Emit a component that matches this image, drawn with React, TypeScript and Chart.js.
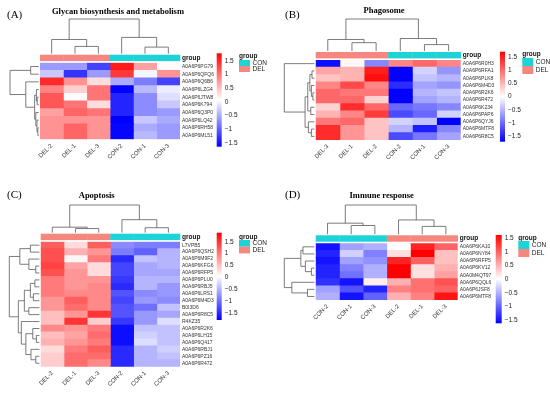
import React, { useEffect, useRef } from "react";
import { Chart, registerables } from "chart.js";
Chart.register(...registerables);

type Tree = number | [number, Tree, Tree];

const SANS = "'Liberation Sans', Arial, sans-serif";
const SERIF = "'Liberation Serif', 'Times New Roman', serif";

// ---------- Panel A ----------
const aRows = ["A0A6P6PG79", "A0A6P6QFQ6", "A0A6P6Q6B6", "A0A6P6LZG4", "A0A6P6JTW8", "A0A6P6K794", "A0A6P6Q3P0", "A0A6P6LQ42", "A0A6P6RH58", "A0A6P6ML51"];
const aCols = ["DEL-2", "DEL-1", "DEL-3", "CON-2", "CON-1", "CON-3"];
const aValues = [
  [-0.6, -0.6, -1.2, 1.6, 0.7, 0.1],
  [-0.3, -1.3, -0.6, 1.4, 0.0, 0.8],
  [1.5, 0.8, 0.3, -0.5, -0.8, -1.2],
  [0.9, 0.4, 1.0, -1.7, -0.4, -0.05],
  [1.2, 0.05, 1.0, -1.4, -0.7, -0.15],
  [1.2, 1.0, 0.3, -1.4, -0.7, -0.3],
  [0.7, 1.1, 1.0, -1.4, -0.7, -0.6],
  [0.8, 0.8, 0.8, -1.7, -0.3, -0.5],
  [0.8, 1.1, 0.8, -1.6, -0.5, -0.6],
  [0.8, 1.1, 0.8, -1.6, -0.4, -0.6],
];
const aRowTree: Tree = [1, [0.28, 0, 1], [0.45, 2, [0.14, [0.08, 3, [0.05, 4, 5]], [0.1, 6, [0.06, 7, [0.03, 8, 9]]]]]];
const aColTree: Tree = [1, [0.41, 0, [0.21, 1, 2]], [0.47, 3, [0.19, 4, 5]]];
const aRange = [-1.64, 1.78];

// ---------- Panel B ----------
const bRows = ["A0A6P6R0H3", "A0A6P6RFA1", "A0A6P6PLK8", "A0A6P6M4D3", "A0A6P6R2K6", "A0A6P6R472", "A0A6P6K234", "A0A6P6PAP6", "A0A6P6QYJ6", "A0A6P6MTF8", "A0A6P6R8C5"];
const bCols = ["DEL-3", "DEL-1", "DEL-2", "CON-2", "CON-1", "CON-3"];
const bValues = [
  [-1.6, 0.05, -0.8, 0.8, 1.0, 0.8],
  [0.6, 0.5, 1.5, -1.7, -0.3, -0.7],
  [0.4, 0.5, 1.6, -1.7, -0.4, -0.5],
  [0.8, 1.2, 0.8, -1.4, -0.6, -0.7],
  [1.0, 0.9, 0.9, -1.7, -0.5, -0.4],
  [1.0, 1.0, 0.3, -1.7, -0.6, -0.5],
  [0.3, 1.4, 1.0, -1.0, -0.9, -0.8],
  [0.5, 0.8, 1.3, -1.2, -1.0, -0.3],
  [0.9, 1.0, 0.4, -0.3, -0.4, -1.7],
  [1.4, 0.7, 0.4, -0.5, -1.5, -0.8],
  [1.4, 0.7, 0.4, -1.2, -0.9, -0.6],
];
const bRowTree: Tree = [1, 0, [0.31, [0.22, [0.15, [0.08, 1, 2], [0.1, 3, [0.05, 4, 5]]], [0.12, 6, 7]], [0.2, 8, [0.1, 9, 10]]]];
const bColTree: Tree = [1, [0.36, 0, [0.26, 1, 2]], [0.39, 3, [0.2, 4, 5]]];
const bRange = [-1.69, 1.69];

// ---------- Panel C ----------
const cRows = ["L7VPB5", "A0A6P6QSH2", "A0A6P6M9F2", "A0A6P6KFG6", "A0A6P6RFP5", "A0A6P6PLU0", "A0A6P6RBJ5", "A0A6P6LRS1", "A0A6P6M4D3", "B0I3D6", "A0A6P6R8C5", "R4KZ35", "A0A6P6R2K6", "A0A6P6LH15", "A0A6P6Q417", "A0A6P6RBJ1", "A0A6P6PZ16", "A0A6P6R472"];
const cCols = ["DEL-2", "DEL-1", "DEL-3", "CON-2", "CON-1", "CON-3"];
const cValues = [
  [1.2, 0.3, 1.2, -0.8, -0.9, -0.9],
  [1.3, 0.6, 0.8, -0.9, -1.1, -0.5],
  [1.3, 0.1, 1.0, -1.5, -0.4, -0.5],
  [1.4, 0.7, 0.3, -1.3, -0.6, -0.5],
  [1.3, 0.8, 0.3, -1.3, -0.6, -0.6],
  [1.0, 0.8, 0.8, -1.4, -0.5, -0.5],
  [1.0, 0.8, 0.9, -1.5, -0.5, -0.7],
  [1.0, 0.9, 0.9, -1.2, -0.8, -0.7],
  [0.8, 1.2, 0.9, -1.3, -0.7, -0.8],
  [0.8, 1.1, 0.9, -1.2, -1.0, -0.4],
  [0.5, 0.8, 1.5, -1.2, -0.7, -0.6],
  [0.5, 1.5, 0.4, -1.4, -0.7, -0.2],
  [0.9, 0.8, 1.0, -1.7, -0.4, -0.4],
  [0.5, 0.7, 1.1, -1.7, -0.3, -0.4],
  [0.6, 0.8, 1.0, -1.7, -0.2, -0.4],
  [0.3, 1.0, 1.2, -1.5, -0.5, -0.3],
  [0.4, 1.1, 1.1, -1.5, -0.5, -0.4],
  [0.4, 1.1, 0.9, -1.5, -0.5, -0.5],
];
const cRowTree: Tree = [1,
  [0.65, [0.3, 0, 1], [0.35, 2, [0.12, 3, 4]]],
  [0.7, [0.5, [0.3, [0.15, 5, 6], [0.2, 7, 8]], [0.35, 9, 10]],
    [0.6, 11, [0.45, [0.22, 12, [0.1, 13, 14]], [0.28, 15, [0.12, 16, 17]]]]]];
const cColTree: Tree = [1, [0.2, 0, [0.15, 1, 2]], [0.47, 3, [0.18, 4, 5]]];
const cRange = [-1.8, 1.88];

// ---------- Panel D ----------
const dRows = ["A0A6P6KA10", "A0A6P6NY84", "A0A6P6RFP5", "A0A6P6KV12", "A0A0M4QT97", "A0A6P6QQL6", "A0A6P6JSF8", "A0A6P6MTF8"];
const dCols = ["CON-2", "CON-1", "CON-3", "DEL-2", "DEL-1", "DEL-3"];
const dValues = [
  [-1.5, -0.6, -0.5, 0.02, 1.4, 1.0],
  [-1.4, -0.3, -0.8, 0.2, 1.7, 0.4],
  [-1.5, -0.6, -0.7, 1.4, 1.0, 0.4],
  [-1.4, -0.8, -0.5, 1.7, 0.2, 0.5],
  [-1.4, -0.9, -0.5, 1.7, 0.2, 0.6],
  [-1.3, -1.5, 0.1, 0.5, 0.9, 1.1],
  [-0.6, -1.1, -1.4, 0.8, 0.9, 1.0],
  [-0.5, -1.5, -1.0, 0.5, 0.8, 1.5],
];
const dRowTree: Tree = [1, [0.45, [0.38, 0, 1], [0.3, 2, [0.1, 3, 4]]], [0.75, 5, [0.23, 6, 7]]];
const dColTree: Tree = [1, [0.38, 0, [0.3, 1, 2]], [0.49, 3, [0.27, 4, 5]]];
const dRange = [-1.62, 1.62];

const colorbarTicks = [1.5, 1, 0.5, 0, -0.5, -1, -1.5];
const groupNames = ["CON", "DEL"];
const groupColors = ["#1ED3D8", "#F5877E"];

function heatColor(v: number, lo: number, hi: number) {
  let t = (v - lo) / (hi - lo);
  t = Math.max(0, Math.min(1, t));
  let r: number, g: number, b: number;
  if (t < 0.5) {
    const k = t / 0.5;
    r = 255 * k; g = 255 * k; b = 255;
  } else {
    const k = (t - 0.5) / 0.5;
    r = 255; g = 255 * (1 - k); b = 255 * (1 - k);
  }
  return `rgb(${Math.round(r)},${Math.round(g)},${Math.round(b)})`;
}

function groupColor(col: string) {
  const gi = groupNames.findIndex((g) => col.startsWith(g));
  return groupColors[gi];
}

interface Geo {
  x: number; y: number; w: number; h: number;
  L: number; T: number; R: number; B: number;
  titleX: number; titleY: number; tagX: number; tagY: number;
  rowRoot: number; colRoot: number;
  cbX: number; cbW: number; cbTop: number; cbBottom: number;
  legX: number; legY: number; swY: number; swH: number;
}

interface Panel {
  tag: string; title: string;
  rows: string[]; cols: string[]; values: number[][];
  rowTree: Tree; colTree: Tree; range: number[];
  geo: Geo;
}

const panels: Panel[] = [
  {
    tag: "(A)", title: "Glycan biosynthesis and metabolism",
    rows: aRows, cols: aCols, values: aValues, rowTree: aRowTree, colTree: aColTree, range: aRange,
    geo: { x: 0, y: 0, w: 275, h: 190, L: 40, T: 62.7, R: 180, B: 139.3, titleX: 118, titleY: 11.7, tagX: 7, tagY: 15,
      rowRoot: 10, colRoot: 19, cbX: 216.7, cbW: 5, cbTop: 53.3, cbBottom: 146.7, legX: 239, legY: 56.7, swY: 60, swH: 6 },
  },
  {
    tag: "(B)", title: "Phagosome",
    rows: bRows, cols: bCols, values: bValues, rowTree: bRowTree, colTree: bColTree, range: bRange,
    geo: { x: 275, y: 0, w: 275, h: 190, L: 40.7, T: 60, R: 185.7, B: 140, titleX: 109, titleY: 11, tagX: 10, tagY: 15,
      rowRoot: 9.3, colRoot: 19, cbX: 225, cbW: 5, cbTop: 51.7, cbBottom: 141.7, legX: 247.3, legY: 54.3, swY: 58, swH: 8 },
  },
  {
    tag: "(C)", title: "Apoptosis",
    rows: cRows, cols: cCols, values: cValues, rowTree: cRowTree, colTree: cColTree, range: cRange,
    geo: { x: 0, y: 190, w: 275, h: 203, L: 40.7, T: 51.7, R: 180, B: 176.7, titleX: 96.7, titleY: 5.7, tagX: 7, tagY: 5.5,
      rowRoot: 9.3, colRoot: 15, cbX: 216.7, cbW: 5, cbTop: 42.7, cbBottom: 130, legX: 239, legY: 47.3, swY: 50, swH: 6.7 },
  },
  {
    tag: "(D)", title: "Immune response",
    rows: dRows, cols: dCols, values: dValues, rowTree: dRowTree, colTree: dColTree, range: dRange,
    geo: { x: 275, y: 190, w: 275, h: 203, L: 40.7, T: 53.3, R: 182.7, B: 110, titleX: 106.7, titleY: 5.7, tagX: 10, tagY: 5.5,
      rowRoot: 9.3, colRoot: 15, cbX: 220.7, cbW: 6, cbTop: 45, cbBottom: 133.3, legX: 243.3, legY: 48.3, swY: 51, swH: 8 },
  },
];

function fmtTick(v: number) {
  return v < 0 ? "\u2212" + String(Math.abs(v)) : String(v);
}

function drawTree(
  ctx: CanvasRenderingContext2D,
  node: Tree,
  leafPos: (i: number) => number,
  coord: (h: number) => number,
  horizontal: boolean
): { pos: number; c: number } {
  if (typeof node === "number") return { pos: leafPos(node), c: coord(0) };
  const [h, a, b] = node;
  const A = drawTree(ctx, a, leafPos, coord, horizontal);
  const Bn = drawTree(ctx, b, leafPos, coord, horizontal);
  const c = coord(h);
  const pt = (cc: number, p: number) => (horizontal ? [cc, p] : [p, cc]);
  ctx.beginPath();
  let p = pt(A.c, A.pos); ctx.moveTo(p[0], p[1]);
  p = pt(c, A.pos); ctx.lineTo(p[0], p[1]);
  p = pt(c, Bn.pos); ctx.lineTo(p[0], p[1]);
  p = pt(Bn.c, Bn.pos); ctx.lineTo(p[0], p[1]);
  ctx.stroke();
  return { pos: (A.pos + Bn.pos) / 2, c };
}

function makePlugin(panel: Panel) {
  return {
    id: "heatDecor",
    afterDraw(chart: any) {
      const ctx: CanvasRenderingContext2D = chart.ctx;
      const area = chart.chartArea;
      const xs = chart.scales.x;
      const ys = chart.scales.y;
      const g = panel.geo;
      ctx.save();
      // tag + title
      ctx.fillStyle = "#000";
      ctx.textBaseline = "middle";
      ctx.textAlign = "left";
      ctx.font = `11px ${SERIF}`;
      ctx.fillText(panel.tag, g.tagX, g.tagY);
      ctx.textAlign = "center";
      ctx.font = `bold 8.5px ${SERIF}`;
      ctx.fillText(panel.title, g.titleX, g.titleY);

      // group annotation bar
      const barBottom = area.top - 1.6;
      const barTop = barBottom - 6.4;
      panel.cols.forEach((c, i) => {
        const x0 = xs.getPixelForValue(i);
        const x1 = xs.getPixelForValue(i + 1);
        ctx.fillStyle = groupColor(c);
        ctx.fillRect(x0, barTop, x1 - x0 + 0.3, barBottom - barTop);
      });
      ctx.fillStyle = "#111";
      ctx.textAlign = "left";
      ctx.font = `bold 6.5px ${SANS}`;
      ctx.fillText("group", area.right + 2, (barTop + barBottom) / 2);

      // dendrograms
      ctx.strokeStyle = "#5a5a5a";
      ctx.lineWidth = 0.8;
      const leafX = area.left - 1.3;
      drawTree(ctx, panel.rowTree, (i) => ys.getPixelForValue(i),
        (h) => leafX - h * (leafX - g.rowRoot), true);
      const leafY = barTop - 1;
      drawTree(ctx, panel.colTree, (i) => xs.getPixelForValue(i + 0.5),
        (h) => leafY - h * (leafY - g.colRoot), false);

      // colour key
      const [lo, hi] = panel.range;
      const grad = ctx.createLinearGradient(0, g.cbBottom, 0, g.cbTop);
      grad.addColorStop(0, "rgb(0,0,255)");
      grad.addColorStop(0.5, "rgb(255,255,255)");
      grad.addColorStop(1, "rgb(255,0,0)");
      ctx.fillStyle = grad;
      ctx.fillRect(g.cbX, g.cbTop, g.cbW, g.cbBottom - g.cbTop);
      ctx.fillStyle = "#222";
      ctx.font = `6.5px ${SANS}`;
      ctx.textAlign = "left";
      colorbarTicks.forEach((v) => {
        const y = g.cbTop + ((hi - v) / (hi - lo)) * (g.cbBottom - g.cbTop);
        ctx.fillText(fmtTick(v), g.cbX + g.cbW + 3, y);
      });

      // legend
      ctx.fillStyle = "#111";
      ctx.font = `bold 6.5px ${SANS}`;
      ctx.fillText("group", g.legX, g.legY);
      ctx.font = `6.5px ${SANS}`;
      groupNames.forEach((name, i) => {
        const y = g.swY + i * g.swH;
        ctx.fillStyle = groupColors[i];
        ctx.fillRect(g.legX, y, 11, g.swH);
        ctx.fillStyle = "#222";
        ctx.fillText(name, g.legX + 13.5, y + g.swH / 2);
      });
      ctx.restore();
    },
  };
}

function HeatPanel({ panel }: { panel: Panel }) {
  const ref = useRef<HTMLCanvasElement>(null);
  useEffect(() => {
    const g = panel.geo;
    const [lo, hi] = panel.range;
    const datasets = panel.cols.map((c, ci) => ({
      label: c,
      data: panel.rows.map(() => [ci, ci + 1]),
      backgroundColor: panel.rows.map((_, ri) => heatColor(panel.values[ri][ci], lo, hi)),
      borderWidth: 0,
      barPercentage: 1,
      categoryPercentage: 1,
      grouped: false,
      inflateAmount: 0.4,
    }));
    const chart = new Chart(ref.current as HTMLCanvasElement, {
      type: "bar",
      data: { labels: panel.rows, datasets: datasets as any },
      plugins: [makePlugin(panel)],
      options: {
        indexAxis: "y",
        responsive: false,
        animation: false,
        devicePixelRatio: 1,
        events: [],
        layout: { padding: { left: g.L, top: g.T, right: 0, bottom: 0 } },
        plugins: { legend: { display: false }, tooltip: { enabled: false }, title: { display: false } },
        scales: {
          x: {
            type: "linear",
            position: "bottom",
            min: 0,
            max: panel.cols.length,
            grid: { display: false, drawTicks: false },
            border: { display: false },
            afterBuildTicks: (s: any) => {
              s.ticks = panel.cols.map((_, i) => ({ value: i + 0.5 }));
            },
            afterFit: (s: any) => {
              s.height = g.h - g.B;
            },
            ticks: {
              autoSkip: false,
              minRotation: 45,
              maxRotation: 45,
              padding: 3,
              color: "#333",
              font: { size: 6, family: SANS },
              callback: (_v: any, i: number) => panel.cols[i],
            },
          },
          y: {
            type: "category",
            position: "right",
            grid: { display: false, drawTicks: false },
            border: { display: false },
            afterFit: (s: any) => {
              s.width = g.w - g.R;
            },
            ticks: {
              autoSkip: false,
              padding: 2,
              color: "#333",
              font: { size: 5, family: SANS },
            },
          },
        },
      } as any,
    });
    return () => chart.destroy();
  }, [panel]);
  const g = panel.geo;
  return (
    <canvas
      ref={ref}
      width={g.w}
      height={g.h}
      style={{ position: "absolute", left: g.x, top: g.y, width: g.w, height: g.h }}
    />
  );
}

export default function App() {
  return (
    <div style={{ position: "absolute", left: 0, top: 0, width: 550, height: 393, background: "#fff", overflow: "hidden" }}>
      {panels.map((p) => (
        <HeatPanel key={p.tag} panel={p} />
      ))}
    </div>
  );
}
